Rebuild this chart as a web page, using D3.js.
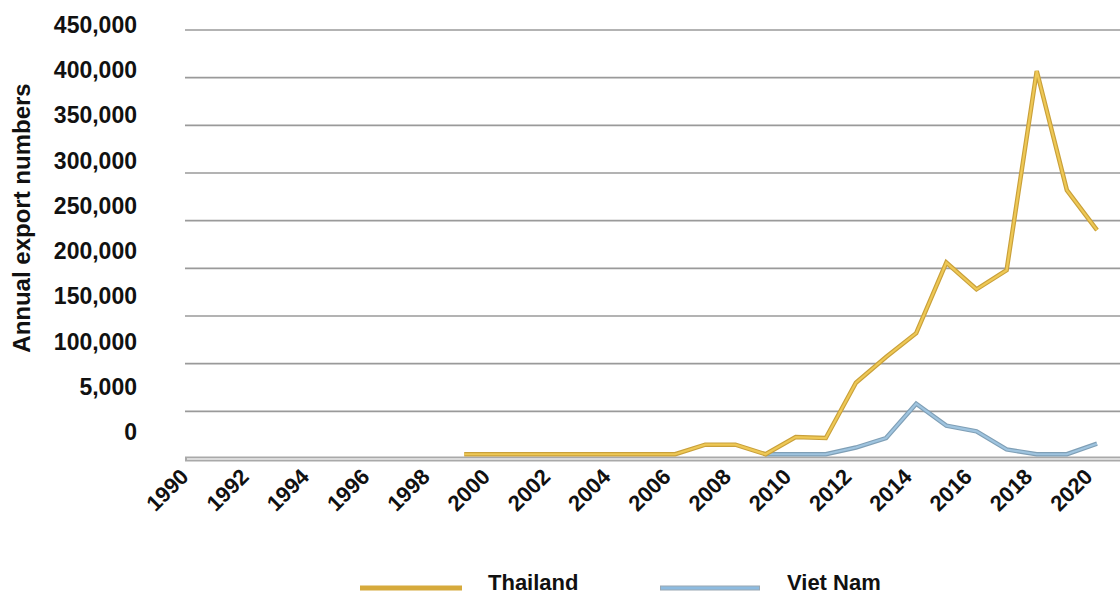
<!DOCTYPE html>
<html><head><meta charset="utf-8">
<script src="https://cdn.jsdelivr.net/npm/d3@7"></script>
<style>
html,body{margin:0;padding:0;background:#fff;}
svg{display:block;font-family:"Liberation Sans",Arial,sans-serif;}
</style></head>
<body>
<svg id="chart" width="1120" height="595"></svg>
<script>
const years = d3.range(1990, 2021);
const xTickYears = [1990,1992,1994,1996,1998,2000,2002,2004,2006,2008,2010,2012,2014,2016,2018,2020];
const yTickValues = [0,50000,100000,150000,200000,250000,300000,350000,400000,450000];
const yTickLabels = ["0","5,000","100,000","150,000","200,000","250,000","300,000","350,000","400,000","450,000"];
const thailandYears = [1999,2000,2001,2002,2003,2004,2005,2006,2007,2008,2009,2010,2011,2012,2013,2014,2015,2016,2017,2018,2019,2020];
const thailandValues = [5000,5000,5000,5000,5000,5000,5000,5000,15000,15000,5000,23000,22000,80000,107000,132000,206000,178000,198000,407000,282000,240000];
const vietnamYears = [2009,2010,2011,2012,2013,2014,2015,2016,2017,2018,2019,2020];
const vietnamValues = [5000,5000,5000,12000,22000,58000,35000,29000,10000,5000,5000,16000];
const seriesNames = ["Thailand","Viet Nam"];

const svg = d3.select("#chart");
const x = d3.scaleLinear().domain([1990, 2020]).range([193, 1097]);
const y = d3.scaleLinear().domain([0, 450000]).range([459, 30]);
const yLabel = d3.scaleLinear().domain([0, 450000]).range([432, 25]);

// gridlines
svg.append("g").selectAll("line").data(yTickValues.filter(v => v > 0)).join("line")
  .attr("x1", 185).attr("x2", 1120)
  .attr("y1", d => y(d)).attr("y2", d => y(d))
  .attr("stroke", "#9a9a9a").attr("stroke-width", 1.6);

// baseline (x axis)
svg.append("line").attr("x1", 185).attr("x2", 1120).attr("y1", y(0)).attr("y2", y(0))
  .attr("stroke", "#a9a9a9").attr("stroke-width", 5);
svg.append("line").attr("x1", 187).attr("x2", 1120).attr("y1", y(0)).attr("y2", y(0))
  .attr("stroke", "#ececec").attr("stroke-width", 1.6);

// y tick labels
svg.append("g").selectAll("text").data(yTickValues).join("text")
  .attr("x", 137).attr("y", d => yLabel(d))
  .attr("text-anchor", "end").attr("dominant-baseline", "central")
  .attr("font-size", 23).attr("font-weight", "bold").attr("fill", "#111")
  .text((d, i) => yTickLabels[i]);

// y title
svg.append("text").attr("transform", "translate(30,218) rotate(-90)")
  .attr("text-anchor", "middle").attr("font-size", 24).attr("font-weight", "bold").attr("fill", "#111")
  .text("Annual export numbers");

// x tick labels
svg.append("g").selectAll("text").data(xTickYears).join("text")
  .attr("transform", d => `translate(${x(d) - 3},478) rotate(-45)`)
  .attr("text-anchor", "end")
  .attr("font-size", 22).attr("font-weight", "bold").attr("fill", "#111")
  .text(d => d);

const line = d3.line().x(d => x(d[0])).y(d => y(d[1]));
const th = thailandYears.map((yr, i) => [yr, thailandValues[i]]);
const vn = vietnamYears.map((yr, i) => [yr, vietnamValues[i]]);

function drawSeries(data, dark, light) {
  svg.append("path").datum(data).attr("d", line).attr("fill", "none")
    .attr("stroke", dark).attr("stroke-width", 4.5).attr("stroke-linejoin", "miter");
  svg.append("path").datum(data).attr("d", line).attr("fill", "none")
    .attr("stroke", light).attr("stroke-width", 2.2).attr("stroke-linejoin", "miter");
}
drawSeries(vn, "#7f9fb6", "#9fc4df");
drawSeries(th, "#c9a03a", "#eec855");

// legend
const legend = [
  {name: seriesNames[0], x1: 360, x2: 462, tx: 488, color: "#d6aa3c", edge: "#d6aa3c"},
  {name: seriesNames[1], x1: 660, x2: 760, tx: 787, color: "#8dbbe0", edge: "#9aa8b3"}
];
const lg = svg.append("g");
legend.forEach(l => {
  lg.append("line").attr("x1", l.x1).attr("x2", l.x2).attr("y1", 588).attr("y2", 588)
    .attr("stroke", l.edge).attr("stroke-width", 5);
  lg.append("line").attr("x1", l.x1 + 1).attr("x2", l.x2 - 1).attr("y1", 588).attr("y2", 588)
    .attr("stroke", l.color).attr("stroke-width", 3);
  lg.append("text").attr("x", l.tx).attr("y", 590)
    .attr("font-size", 22).attr("font-weight", "bold").attr("fill", "#111").text(l.name);
});
</script>
</body></html>
